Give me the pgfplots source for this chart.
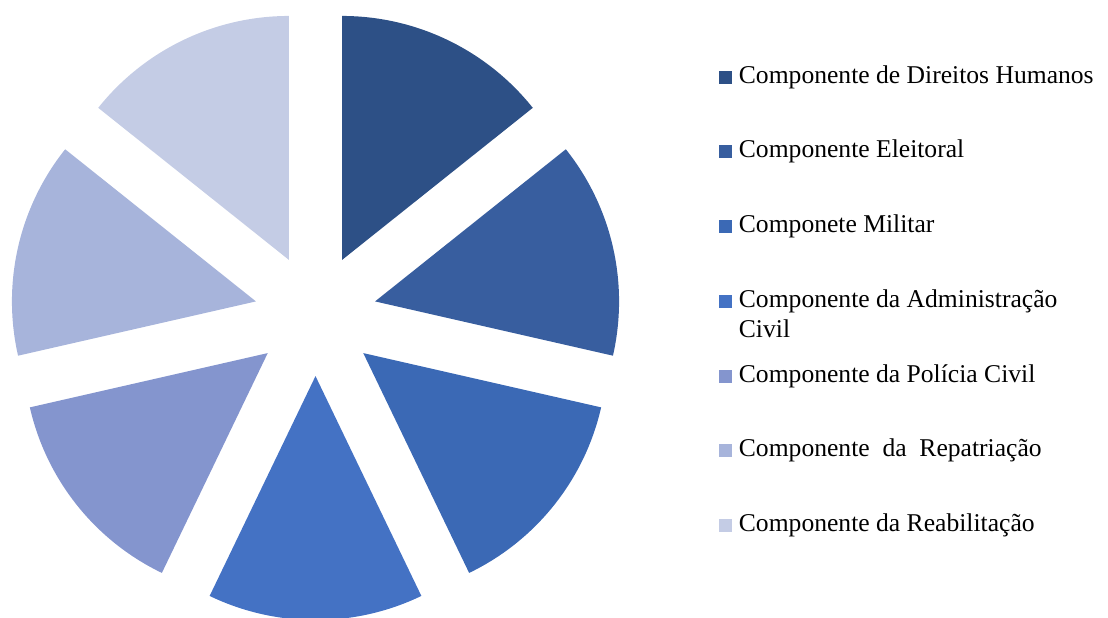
\documentclass[border=0pt]{standalone}
\usepackage{pgfplots}
\pgfplotsset{compat=1.18}
\usepackage{pgfplotstable}
\usepackage{fontspec}
\setmainfont{Liberation Serif}
\definecolor{c0}{HTML}{2D5086}
\definecolor{c1}{HTML}{385E9F}
\definecolor{c2}{HTML}{3B69B5}
\definecolor{c3}{HTML}{4472C4}
\definecolor{c4}{HTML}{8495CE}
\definecolor{c5}{HTML}{A7B4DB}
\definecolor{c6}{HTML}{C4CCE5}

\pgfplotstableread{
id value
0 1
1 1
2 1
3 1
4 1
5 1
6 1
}\piedata

\begin{document}
\begin{tikzpicture}
\begin{axis}[scale only axis, width=554pt, height=308.5pt,
  xmin=0, xmax=1108, ymin=0, ymax=617, hide axis, clip=true]
\def\total{7}
\xdef\cum{0}
\pgfplotsinvokeforeach{0,...,6}{
  \pgfplotstablegetelem{#1}{value}\of\piedata
  \edef\val{\pgfplotsretval}
  \pgfmathsetmacro\a{90-360*\cum/\total}
  \pgfmathsetmacro\b{90-360*(\cum+\val)/\total}
  \pgfmathsetmacro\m{(\a+\b)/2}
  \pgfmathsetmacro\cx{315.5+61.1*cos(\m)}
  \pgfmathsetmacro\cy{302+61.1*sin(\m)}
  \edef\doit{\noexpand\fill[c#1] (axis cs:\cx,\cy) -- ++(\a:122pt) arc[start angle=\a, end angle=\b, radius=122pt] -- cycle;}
  \doit
  \pgfmathparse{\cum+\val}\xdef\cum{\pgfmathresult}
}
% legend
\def\lfont{\fontsize{12.8}{15}\selectfont}
\newcommand\lmark[2]{\fill[#1] (axis cs:719,#2-0.5) rectangle (axis cs:731.5,#2+12.5);}
\lmark{c0}{533}
\node[anchor=base west, inner sep=0pt, font=\lfont] at (axis cs:738.5,533) {Componente de Direitos Humanos};
\lmark{c1}{459}
\node[anchor=base west, inner sep=0pt, font=\lfont] at (axis cs:738.5,459) {Componente Eleitoral};
\lmark{c2}{385}
\node[anchor=base west, inner sep=0pt, font=\lfont] at (axis cs:738.5,385) {Componete Militar};
\lmark{c3}{310}
\node[anchor=base west, inner sep=0pt, font=\lfont] at (axis cs:738.5,310) {Componente da Administração};
\node[anchor=base west, inner sep=0pt, font=\lfont] at (axis cs:738.5,280) {Civil};
\lmark{c4}{235}
\node[anchor=base west, inner sep=0pt, font=\lfont] at (axis cs:738.5,235) {Componente da Polícia Civil};
\lmark{c5}{161}
\node[anchor=base west, inner sep=0pt, font=\lfont] at (axis cs:738.5,161) {Componente\ \ da\ \ Repatriação};
\lmark{c6}{86}
\node[anchor=base west, inner sep=0pt, font=\lfont] at (axis cs:738.5,86) {Componente da Reabilitação};
\end{axis}
\pgfresetboundingbox
\useasboundingbox (current axis.south west) rectangle (current axis.north east);
\end{tikzpicture}
\end{document}
